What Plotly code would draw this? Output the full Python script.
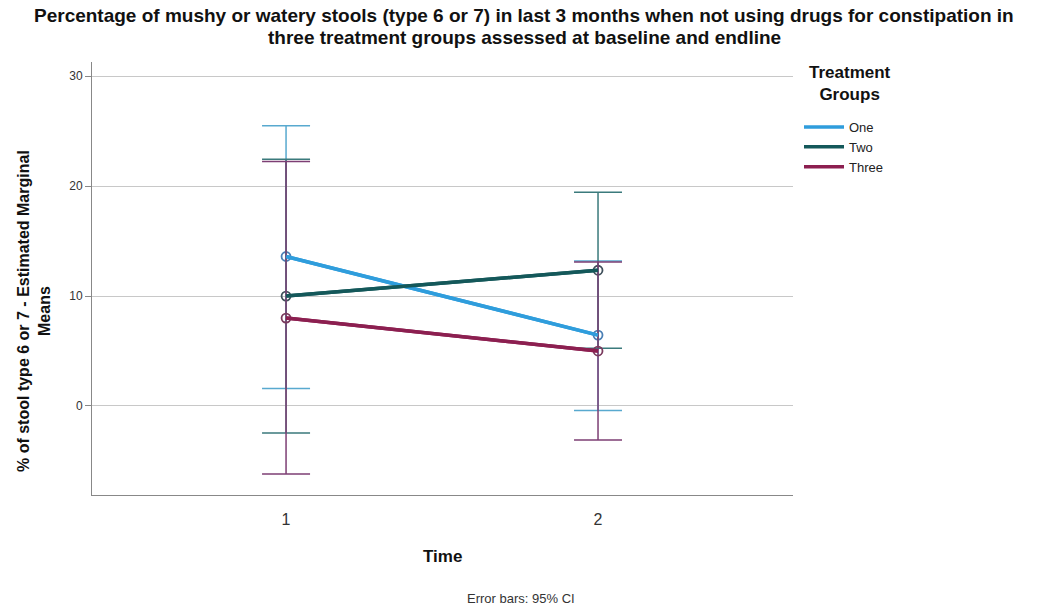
import plotly.graph_objects as go

time_points = [1, 2]
groups = ["One", "Two", "Three"]
means = {"One": [13.6, 6.45], "Two": [10.0, 12.35], "Three": [8.0, 5.0]}
ci_upper = {"One": [25.5, 13.2], "Two": [22.45, 19.45], "Three": [22.25, 13.1]}
ci_lower = {"One": [1.6, -0.4], "Two": [-2.45, 5.25], "Three": [-6.2, -3.1]}

line_colors = {"One": "#2f9ddc", "Two": "#14585a", "Three": "#8c1f50"}
err_colors = {"One": "#58a9cf", "Two": "#3b7a7c", "Three": "#7d3f74"}
marker_colors = {"One": "#4a7fb5", "Two": "#3e4f5a", "Three": "#7a3a5e"}

FONT = "Liberation Sans, Arial, sans-serif"
L, R, T, B = 92, 256, 62, 112
W, H = 1049, 607
PW, PH = W - L - R, H - T - B


def px_x(p):
    return (p - L) / PW


def px_y(p):
    return (H - B - p) / PH


fig = go.Figure()
for g in groups:
    m = means[g]
    up = [u - v for u, v in zip(ci_upper[g], m)]
    lo = [v - l for v, l in zip(m, ci_lower[g])]
    fig.add_trace(go.Scatter(
        x=time_points, y=m, name=g, mode="lines+markers", showlegend=False,
        line=dict(color=line_colors[g], width=3.5),
        marker=dict(symbol="circle-open", size=9, color=marker_colors[g], line=dict(width=1.8)),
        error_y=dict(type="data", symmetric=False, array=up, arrayminus=lo,
                     color=err_colors[g], thickness=1.5, width=24),
    ))
for g in groups:
    fig.add_trace(go.Scatter(
        x=time_points, y=means[g], name=g, mode="lines", showlegend=True,
        line=dict(color=line_colors[g], width=3.5), hoverinfo="skip",
    ))

fig.update_layout(
    width=W, height=H,
    paper_bgcolor="white", plot_bgcolor="white",
    margin=dict(l=L, r=R, t=T, b=B),
    font=dict(family=FONT, color="#222"),
    legend=dict(
        x=px_x(799), xanchor="left", y=px_y(112), yanchor="top",
        font=dict(size=13, color="#222"), bgcolor="rgba(0,0,0,0)",
        tracegroupgap=0, itemwidth=40,
    ),
    showlegend=True,
)
fig.update_xaxes(
    range=[0.378, 2.625], tickvals=time_points, ticktext=["1", "2"],
    showgrid=False, zeroline=False, showline=True, linecolor="#888", linewidth=1,
    ticks="", tickfont=dict(size=16, color="#333"), ticklabelstandoff=10,
)
fig.update_yaxes(
    range=[-8.1, 31.3], tickvals=[0, 10, 20, 30],
    showgrid=True, gridcolor="#c8c8c8", gridwidth=1, zeroline=False,
    showline=True, linecolor="#888", linewidth=1,
    ticks="outside", ticklen=6, tickcolor="#888", tickfont=dict(size=12, color="#333"),
)

title_lines = [
    "Percentage of mushy or watery stools (type 6 or 7) in last 3 months when not using drugs for constipation in",
    "three treatment groups assessed at baseline and endline",
]
for txt, yp in zip(title_lines, [16, 38]):
    fig.add_annotation(text="<b>" + txt + "</b>", xref="paper", yref="paper",
                       x=px_x(524), y=px_y(yp), xanchor="center", yanchor="middle",
                       showarrow=False, borderpad=0, font=dict(size=19, color="#111"))

fig.add_annotation(text="<b>% of stool type 6 or 7 - Estimated Marginal<br>Means</b>",
                   xref="paper", yref="paper", x=px_x(34), y=px_y(311),
                   xanchor="center", yanchor="middle", textangle=-90, showarrow=False,
                   font=dict(size=16, color="#111"))
fig.add_annotation(text="<b>Time</b>", xref="paper", yref="paper",
                   x=px_x(442), y=px_y(556), xanchor="center", yanchor="middle",
                   showarrow=False, font=dict(size=17, color="#111"))
fig.add_annotation(text="<b>Treatment<br>Groups</b>", xref="paper", yref="paper",
                   x=px_x(850), y=px_y(83), xanchor="center", yanchor="middle",
                   showarrow=False, font=dict(size=17, color="#111"))
fig.add_annotation(text="Error bars: 95% CI", xref="paper", yref="paper",
                   x=px_x(521), y=px_y(598), xanchor="center", yanchor="middle",
                   showarrow=False, font=dict(size=13, color="#333"))

fig.write_html("out.html")
